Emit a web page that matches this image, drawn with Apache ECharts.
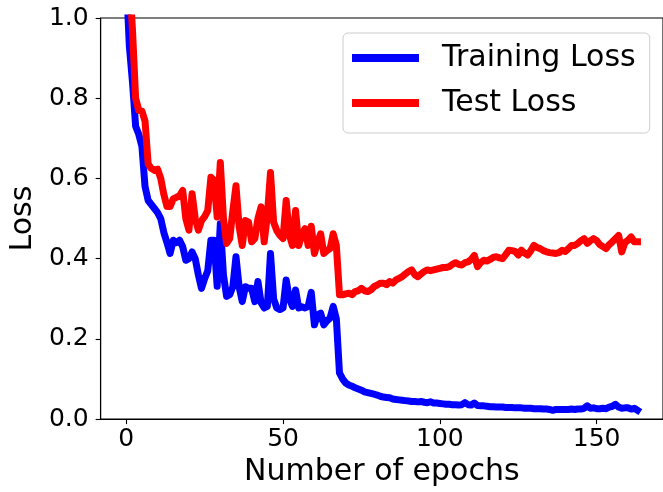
<!DOCTYPE html>
<html>
<head>
<meta charset="utf-8">
<script src="https://cdn.jsdelivr.net/npm/echarts@6/dist/echarts.min.js"></script>
<style>
html,body{margin:0;padding:0;background:#fff;}
#chart{width:663px;height:492px;}
</style>
</head>
<body>
<div id="chart"></div>
<script>
// Data (epoch index 0..163)
const seriesNames = ["Training Loss", "Test Loss"];
const xTickValues = [0, 50, 100, 150];
const yTickValues = [0.0, 0.2, 0.4, 0.6, 0.8, 1.0];

const trainLoss = [
1.10,0.93,0.84,0.73,0.71,0.68,0.58,0.545,0.535,0.525,
0.515,0.50,0.465,0.44,0.413,0.446,0.44,0.446,0.43,0.396,
0.40,0.417,0.40,0.36,0.326,0.35,0.37,0.446,0.446,0.331,
0.487,0.36,0.306,0.31,0.33,0.405,0.33,0.293,0.33,0.326,
0.326,0.293,0.343,0.29,0.277,0.281,0.413,0.30,0.277,0.273,
0.277,0.347,0.30,0.281,0.322,0.277,0.28,0.277,0.281,0.316,
0.235,0.26,0.264,0.235,0.245,0.252,0.281,0.25,0.115,0.10,
0.09,0.085,0.082,0.078,0.075,0.072,0.068,0.066,0.064,0.062,
0.06,0.057,0.055,0.054,0.053,0.05,0.049,0.048,0.047,0.046,
0.045,0.044,0.044,0.043,0.044,0.042,0.041,0.043,0.04,0.04,
0.039,0.038,0.037,0.037,0.036,0.036,0.035,0.036,0.041,0.036,
0.035,0.04,0.034,0.033,0.033,0.032,0.031,0.031,0.03,0.03,
0.03,0.029,0.029,0.029,0.028,0.028,0.028,0.027,0.027,0.027,
0.026,0.026,0.026,0.025,0.025,0.024,0.022,0.024,0.024,0.024,
0.024,0.024,0.025,0.024,0.025,0.025,0.027,0.033,0.027,0.028,
0.026,0.026,0.027,0.026,0.03,0.032,0.037,0.03,0.027,0.028,
0.028,0.025,0.027,0.022
];

const testLoss = [
1.30,1.10,0.97,0.80,0.77,0.768,0.743,0.636,0.625,0.62,
0.623,0.60,0.56,0.53,0.53,0.549,0.553,0.557,0.57,0.50,
0.471,0.562,0.50,0.471,0.495,0.505,0.52,0.603,0.595,0.504,
0.64,0.50,0.438,0.45,0.52,0.582,0.48,0.433,0.495,0.491,
0.442,0.45,0.50,0.529,0.442,0.508,0.615,0.491,0.47,0.458,
0.45,0.545,0.46,0.433,0.52,0.433,0.46,0.475,0.433,0.481,
0.413,0.44,0.462,0.413,0.42,0.425,0.462,0.433,0.31,0.31,
0.312,0.314,0.31,0.318,0.32,0.326,0.32,0.318,0.322,0.33,
0.334,0.339,0.339,0.335,0.343,0.339,0.347,0.351,0.355,0.362,
0.368,0.372,0.36,0.355,0.362,0.368,0.372,0.37,0.372,0.374,
0.376,0.378,0.378,0.38,0.386,0.39,0.386,0.384,0.39,0.392,
0.398,0.408,0.38,0.39,0.396,0.394,0.398,0.403,0.405,0.402,
0.40,0.41,0.421,0.42,0.418,0.409,0.421,0.414,0.409,0.42,
0.433,0.428,0.425,0.42,0.417,0.415,0.414,0.413,0.415,0.421,
0.418,0.425,0.433,0.433,0.438,0.445,0.45,0.438,0.445,0.45,
0.445,0.435,0.43,0.425,0.435,0.442,0.45,0.458,0.417,0.44,
0.446,0.454,0.442,0.442
];

const FONT = "DejaVu Sans";
const toPairs = arr => arr.map((v, i) => [i, v]);
const n = trainLoss.length;
const xMin = -(n - 1) * 0.05, xMax = (n - 1) * 1.05;

const chart = echarts.init(document.getElementById('chart'), null, {renderer: 'canvas'});
chart.setOption({
  animation: false,
  backgroundColor: '#ffffff',
  textStyle: {fontFamily: FONT, color: '#000'},
  grid: {left: 98, right: -2, top: 18, bottom: 70, show: true, borderColor: '#000', borderWidth: 1.1, backgroundColor: 'transparent'},
  legend: {
    left: 343, top: 33,
    orient: 'vertical',
    data: seriesNames,
    icon: 'rect',
    itemWidth: 67, itemHeight: 8,
    itemGap: 15,
    padding: [10, 14, 15, 9],
    backgroundColor: '#ffffff',
    borderColor: '#cccccc', borderWidth: 1, borderRadius: 5,
    textStyle: {fontFamily: FONT, fontSize: 30, color: '#000', padding: [0, 0, 0, 18], lineHeight: 30}
  },
  xAxis: {
    type: 'value', min: xMin, max: xMax,
    name: 'Number of epochs', nameLocation: 'middle', nameGap: 30,
    nameTextStyle: {fontFamily: FONT, fontSize: 30, color: '#000', verticalAlign: 'top'},
    axisLine: {show: true, onZero: false, lineStyle: {color: '#000', width: 1.1}},
    axisTick: {show: true, inside: false, length: 5, lineStyle: {color: '#000', width: 1.1}, customValues: xTickValues},
    axisLabel: {show: true, fontFamily: FONT, fontSize: 25, color: '#000', margin: 8, customValues: xTickValues},
    splitLine: {show: false}
  },
  yAxis: {
    type: 'value', min: 0, max: 1, interval: 0.2,
    name: 'Loss', nameLocation: 'middle', nameGap: 60, nameRotate: 90,
    nameTextStyle: {fontFamily: FONT, fontSize: 30, color: '#000'},
    axisLine: {show: true, onZero: false, lineStyle: {color: '#000', width: 1.1}},
    axisTick: {show: true, inside: false, length: 5, lineStyle: {color: '#000', width: 1.1}},
    axisLabel: {show: true, fontFamily: FONT, fontSize: 25, color: '#000', margin: 12,
      formatter: v => yTickValues.some(t => Math.abs(t - v) < 1e-9) ? v.toFixed(1) : ''},
    splitLine: {show: false}
  },
  series: [
    {name: seriesNames[0], type: 'line', data: toPairs(trainLoss), showSymbol: false, symbol: 'none',
     color: '#0000ff', lineStyle: {color: '#0000ff', width: 7, cap: 'square', join: 'round'}, clip: true, z: 2},
    {name: seriesNames[1], type: 'line', data: toPairs(testLoss), showSymbol: false, symbol: 'none',
     color: '#ff0000', lineStyle: {color: '#ff0000', width: 7, cap: 'square', join: 'round'}, clip: true, z: 3}
  ]
});
</script>
</body>
</html>
